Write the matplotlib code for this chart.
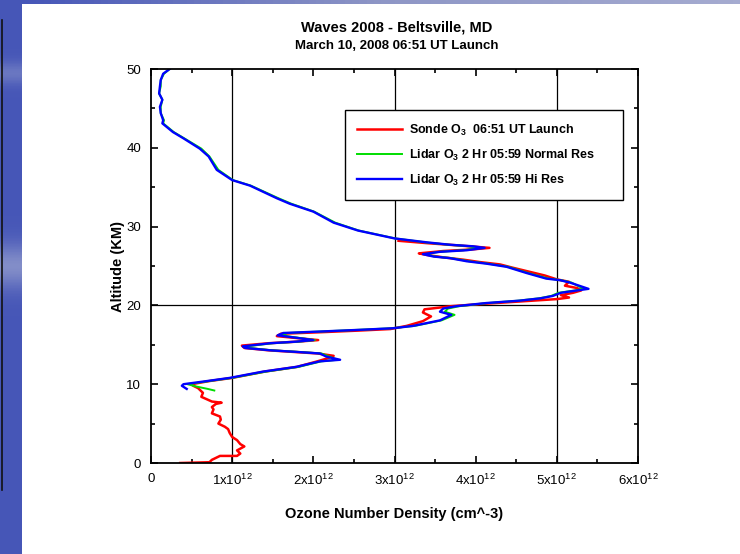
import numpy as np
import matplotlib
matplotlib.use('Agg')
import matplotlib.pyplot as plt

plt.rcParams['font.family'] = ['Liberation Sans', 'DejaVu Sans']
plt.rcParams['mathtext.fontset'] = 'custom'
plt.rcParams['mathtext.rm'] = 'Liberation Sans'
plt.rcParams['mathtext.bf'] = 'Liberation Sans:bold'

# ozone density in units of 1e12 cm^-3, altitude in km
lidar_hi_alt = [50.0, 49.4, 48.6, 47.8, 46.9, 46.1, 45.2, 44.4, 43.5, 43.1, 42.0, 41.2,
                39.9, 38.9, 37.2, 35.9, 35.2, 33.6, 32.9, 31.9, 30.5, 29.5, 28.5, 28.0,
                27.7, 27.5, 27.3, 27.0, 26.8, 26.5, 26.2, 26.0, 25.6, 25.3, 24.9, 24.1,
                23.4, 23.2, 22.9, 22.1, 21.9, 21.6, 21.2, 20.9, 20.6, 20.3, 19.9, 19.6,
                19.2, 18.8, 18.1, 17.4, 17.1, 16.9, 16.7, 16.5, 16.2, 16.0, 15.6, 15.4,
                15.2, 14.8, 14.6, 14.3, 14.1, 13.9, 13.5, 13.1, 12.9, 12.2, 11.6, 10.8,
                10.4, 10.0, 9.8, 9.4]
lidar_hi = [0.23, 0.15, 0.12, 0.11, 0.10, 0.14, 0.11, 0.12, 0.15, 0.14, 0.27, 0.40,
            0.60, 0.71, 0.81, 1.00, 1.22, 1.55, 1.71, 2.00, 2.25, 2.55, 3.00, 3.40,
            3.68, 3.97, 4.11, 3.89, 3.56, 3.35, 3.48, 3.68, 3.89, 4.13, 4.38, 4.63,
            4.87, 5.04, 5.16, 5.39, 5.25, 5.05, 4.95, 4.80, 4.54, 4.13, 3.76, 3.60,
            3.56, 3.70, 3.56, 3.23, 2.98, 2.57, 2.12, 1.63, 1.56, 1.71, 2.00, 1.79,
            1.47, 1.13, 1.16, 1.47, 1.79, 2.08, 2.16, 2.33, 2.08, 1.79, 1.38, 0.97,
            0.69, 0.40, 0.38, 0.44]

lidar_norm_alt = [50.0, 49.4, 48.6, 47.8, 46.9, 46.1, 45.2, 44.4, 43.5, 43.1, 42.0, 41.2,
                  39.9, 38.9, 37.2, 35.9, 35.2, 33.6, 32.9, 31.9, 30.5, 29.5, 28.5, 28.0,
                  27.7, 27.5, 27.3, 27.0, 26.8, 26.5, 26.2, 26.0, 25.6, 25.3, 24.9, 24.1,
                  23.4, 23.2, 22.9, 22.1, 21.9, 21.6, 21.2, 20.9, 20.6, 20.3, 19.9, 19.6,
                  19.2, 18.8, 18.1, 17.4, 17.1, 16.9, 16.7, 16.5, 16.2, 16.0, 15.6, 15.4,
                  15.2, 14.8, 14.6, 14.3, 14.1, 13.9, 13.5, 13.1, 12.9, 12.2, 11.6, 10.8,
                  10.4, 10.0, 9.7, 9.4, 9.2]
lidar_norm = [0.23, 0.16, 0.12, 0.12, 0.10, 0.14, 0.12, 0.12, 0.16, 0.15, 0.28, 0.41,
              0.62, 0.72, 0.83, 1.01, 1.23, 1.57, 1.73, 2.01, 2.27, 2.56, 3.01, 3.38,
              3.66, 3.92, 4.05, 3.85, 3.55, 3.38, 3.50, 3.70, 3.92, 4.15, 4.40, 4.65,
              4.90, 5.05, 5.18, 5.33, 5.22, 5.02, 4.93, 4.78, 4.52, 4.15, 3.80, 3.66,
              3.62, 3.74, 3.58, 3.25, 2.96, 2.55, 2.12, 1.68, 1.62, 1.74, 2.02, 1.82,
              1.50, 1.18, 1.20, 1.50, 1.82, 2.10, 2.20, 2.30, 2.10, 1.82, 1.42, 1.00,
              0.72, 0.45, 0.56, 0.70, 0.78]

sonde_alt = [0.0, 0.1, 0.4, 0.6, 0.9, 0.9, 1.2, 1.6, 2.1, 2.4, 2.9, 3.3, 3.8, 4.3, 4.6,
             5.0, 5.5, 5.9, 6.3, 6.8, 7.1, 7.5, 7.65, 7.8, 8.4, 8.9, 9.5, 9.8, 10.0,
             10.4, 10.8, 11.6, 12.2, 12.9, 13.3, 13.6, 13.9, 14.1, 14.3, 14.6, 14.9,
             15.2, 15.4, 15.6, 15.9, 16.1, 16.4, 16.6, 16.8, 17.0, 17.4, 18.0, 18.6,
             19.1, 19.5, 19.9, 20.2, 20.5, 20.8, 21.0, 21.3, 21.6, 21.9, 22.2, 22.5,
             23.0, 23.3, 23.8, 24.3, 24.8, 25.2, 25.5, 25.8, 26.1, 26.4, 26.6, 26.9,
             27.1, 27.3, 27.6, 27.9, 28.2]
sonde = [0.36, 0.72, 0.75, 0.79, 0.85, 1.06, 1.10, 1.06, 1.15, 1.10, 1.06, 1.00, 0.97,
         0.95, 0.91, 0.83, 0.86, 0.85, 0.75, 0.77, 0.75, 0.80, 0.87, 0.75, 0.62, 0.64,
         0.58, 0.52, 0.50, 0.72, 1.00, 1.40, 1.80, 2.05, 2.18, 2.25, 2.05, 1.75, 1.45,
         1.15, 1.12, 1.45, 1.80, 2.06, 1.75, 1.55, 1.60, 2.10, 2.55, 2.95, 3.15, 3.35,
         3.45, 3.35, 3.37, 3.70, 4.10, 4.55, 5.00, 5.15, 5.05, 5.20, 5.30, 5.25, 5.10,
         5.15, 5.00, 4.85, 4.65, 4.45, 4.30, 4.05, 3.85, 3.60, 3.40, 3.30, 3.60, 3.95,
         4.17, 3.80, 3.40, 3.05]

xticks = [0, 1, 2, 3, 4, 5, 6]
xlabels = ['0'] + ['%dx10$^{12}$' % v for v in xticks[1:]]
yticks = [0, 10, 20, 30, 40, 50]

labels = ['Sonde O$_{\\mathbf{3}}$  06:51 UT Launch',
          'Lidar O$_{\\mathbf{3}}$ 2 Hr 05:59 Normal Res',
          'Lidar O$_{\\mathbf{3}}$ 2 Hr 05:59 Hi Res']

fig = plt.figure(figsize=(7.4, 5.54), dpi=100)

# slide background strips
bg = fig.add_axes([0, 0, 22/740, 1])
col = np.linspace(0, 1, 200)
band = 0.55 + 0.25*np.exp(-((col - 0.52)/0.04)**2) + 0.15*np.exp(-((col - 0.87)/0.02)**2)
bg.imshow(np.column_stack([band, band]), aspect='auto', extent=[0, 1, 0, 1],
          cmap=matplotlib.colors.LinearSegmentedColormap.from_list('s', ['#3b4cb4', '#9aa3cf']),
          vmin=0.5, vmax=0.9, origin='lower')
bg.axvline(0.08, ymin=(554-490)/554, ymax=(554-20)/554, color='#111111', lw=1.2)
bg.set_xlim(0, 1)
bg.axis('off')
top = fig.add_axes([22/740, 1 - 4/554, 1 - 22/740, 4/554])
top.imshow(np.linspace(0, 1, 100)[None, :], aspect='auto', extent=[0, 1, 0, 1],
           cmap=matplotlib.colors.LinearSegmentedColormap.from_list('t', ['#4656b8', '#8e96c6', '#a5abd0']))
top.axis('off')

ax = fig.add_axes([151/740, 1 - 463/554, 487/740, 394/554])

ax.plot(sonde, sonde_alt, color='#ff0000', lw=1.8, label=labels[0])
ax.plot(lidar_norm, lidar_norm_alt, color='#00dd00', lw=1.4, label=labels[1])
ax.plot(lidar_hi, lidar_hi_alt, color='#0000ff', lw=1.7, label=labels[2])

for v in [1, 3, 5]:
    ax.axvline(v, color='black', lw=0.9, zorder=0)
ax.axhline(20, color='black', lw=0.9, zorder=0)

ax.set_xlim(0, 6)
ax.set_ylim(0, 50)
ax.set_xticks(xticks)
ax.set_xticklabels(xlabels)
ax.set_xticks(np.arange(0.5, 6, 1), minor=True)
ax.set_yticks(yticks)
ax.set_yticks(np.arange(5, 50, 10), minor=True)
ax.tick_params(which='both', direction='in', top=True, right=True, labelsize=9.5,
               width=1.2, pad=7)
ax.tick_params(which='major', length=5)
ax.tick_params(which='minor', length=3)
for s in ax.spines.values():
    s.set_linewidth(1.3)

ax.set_xlabel('Ozone Number Density (cm^-3)', fontsize=10.5, fontweight='bold', labelpad=14)
ax.set_ylabel('Altitude (KM)', fontsize=10.5, fontweight='bold', labelpad=1)

fig.text(0.536, 1 - 27/554, 'Waves 2008 - Beltsville, MD', ha='center', va='center',
         fontsize=10.5, fontweight='bold')
fig.text(0.536, 1 - 46/554, 'March 10, 2008 06:51 UT Launch', ha='center', va='center',
         fontsize=9.5, fontweight='bold')

leg = ax.legend(loc='upper left', bbox_to_anchor=(0.398, 0.896, 0.571, 0.0), mode='expand',
                borderaxespad=0, fancybox=False, framealpha=1, edgecolor='black',
                prop={'size': 9, 'weight': 'bold'},
                handlelength=3.6, handletextpad=0.5, labelspacing=0.8, borderpad=1.0)
leg.get_frame().set_linewidth(1.0)

fig.savefig('out.png', dpi=100)
